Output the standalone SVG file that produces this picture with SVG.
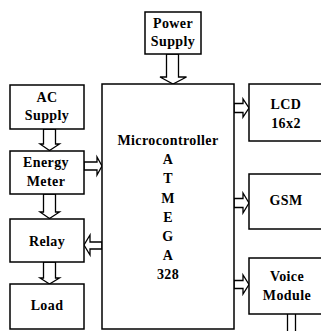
<svg xmlns="http://www.w3.org/2000/svg" width="321" height="331" viewBox="0 0 321 331">
<style>
.box{fill:#fff;stroke:#000;stroke-width:1.5}
.arr{fill:#fff;stroke:#000;stroke-width:1.3;stroke-linejoin:miter}
.t{font-family:"Liberation Serif","Times New Roman",serif;font-weight:bold;font-size:14px;letter-spacing:0.4px;fill:#000;text-anchor:middle}
</style>
<rect width="321" height="331" fill="#fff"/>
<g id="connectors">
<polygon class="arr" points="166.5,54 178.5,54 178.5,77 186.5,77 173,84 160,77 166.5,77"/>
<polygon class="arr" points="43.5,129 55.5,129 55.5,144 59.5,144 49.5,150.5 40,144 43.5,144"/>
<polygon class="arr" points="43.5,194 55.5,194 55.5,212 59.5,212 49.5,218.5 40,212 43.5,212"/>
<polygon class="arr" points="43.5,262 55.5,262 55.5,278 59.5,278 49.5,284 40,278 43.5,278"/>
<polygon class="arr" points="84,162 97,162 97,157 102,166 97,175 97,170 84,170"/>
<polygon class="arr" points="102,242 90,242 90,235 84,245 90,255 90,249 102,249"/>
<polygon class="arr" points="234,103.5 243,103.5 243,99 249,108 243,117 243,112.5 234,112.5"/>
<polygon class="arr" points="234,198.5 243,198.5 243,193 249,203 243,213 243,207.5 234,207.5"/>
<polygon class="arr" points="234,280.5 243,280.5 243,275 249,284.5 243,294 243,288.5 234,288.5"/>
<line x1="287.5" y1="314" x2="287.5" y2="331" stroke="#000" stroke-width="1.3"/>
<line x1="295.5" y1="314" x2="295.5" y2="331" stroke="#000" stroke-width="1.3"/>
</g>
<g id="power">
<rect class="box" x="145" y="12" width="56" height="42"/>
<text class="t" x="173" y="28">Power</text>
<text class="t" x="173" y="46">Supply</text>
</g>
<g id="ac">
<rect class="box" x="10" y="85" width="74" height="44"/>
<text class="t" x="47" y="102">AC</text>
<text class="t" x="47" y="120">Supply</text>
</g>
<g id="energy">
<rect class="box" x="10" y="151" width="74" height="43"/>
<text class="t" x="46" y="167">Energy</text>
<text class="t" x="46" y="186">Meter</text>
</g>
<g id="relay">
<rect class="box" x="10" y="219" width="74" height="43"/>
<text class="t" x="47" y="246">Relay</text>
</g>
<g id="load">
<rect class="box" x="10" y="284" width="74" height="45"/>
<text class="t" x="47" y="310">Load</text>
</g>
<g id="mcu">
<rect class="box" x="102" y="84" width="132" height="245"/>
<text class="t" x="168" y="145">Microcontroller</text>
<text class="t" x="168" y="164">A</text>
<text class="t" x="168" y="183">T</text>
<text class="t" x="168" y="203">M</text>
<text class="t" x="168" y="222">E</text>
<text class="t" x="168" y="241">G</text>
<text class="t" x="168" y="260">A</text>
<text class="t" x="168" y="279">328</text>
</g>
<g id="lcd">
<rect class="box" x="249" y="84" width="76" height="57"/>
<text class="t" x="286" y="109">LCD</text>
<text class="t" x="286" y="128">16x2</text>
</g>
<g id="gsm">
<rect class="box" x="249" y="174" width="76" height="55"/>
<text class="t" x="286" y="205">GSM</text>
</g>
<g id="voice">
<rect class="box" x="249" y="258" width="76" height="56"/>
<text class="t" x="287" y="281">Voice</text>
<text class="t" x="287" y="300">Module</text>
</g>
</svg>
